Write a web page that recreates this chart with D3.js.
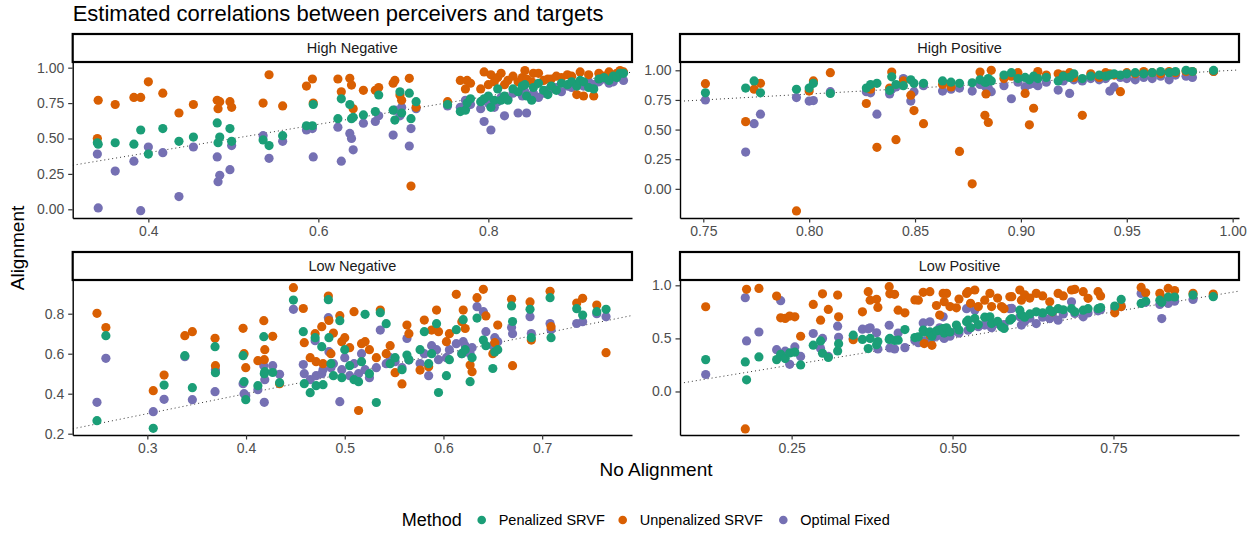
<!DOCTYPE html>
<html>
<head>
<meta charset="utf-8">
<script src="https://cdn.jsdelivr.net/npm/d3@7"></script>
<style>
  body { margin: 0; background: #fff; }
  text { font-family: "Liberation Sans", Arial, sans-serif; }
</style>
</head>
<body>
<svg id="chart" width="1260" height="535"></svg>
<script>
// ---- data: one x per subject, one y per method ----
var methods = ["Penalized SRVF", "Unpenalized SRVF", "Optimal Fixed"];
var facets = ["High Negative", "High Positive", "Low Negative", "Low Positive"];

// High Negative
var hnX = [0.340,0.341,0.361,0.383,0.391,0.400,0.417,0.436,0.453,0.481,
  0.482,0.484,0.496,0.498,0.535,0.542,0.558,0.586,0.593,0.594,
  0.623,0.627,0.637,0.639,0.641,0.653,0.667,0.671,0.688,0.690,
  0.696,0.698,0.707,0.709,0.715,0.752,0.767,0.773,0.775,0.779,
  0.791,0.795,0.800,0.803,0.807,0.811,0.815,0.819,0.823,0.829,
  0.835,0.840,0.843,0.845,0.851,0.853,0.859,0.865,0.870,0.874,
  0.880,0.886,0.893,0.898,0.904,0.908,0.912,0.918,0.924,0.930,
  0.936,0.942,0.947,0.951,0.955,0.959];
var hnPen = [0.47,0.46,0.47,0.46,0.56,0.39,0.57,0.48,0.51,0.61,
  0.47,0.51,0.57,0.48,0.49,0.45,0.52,0.59,0.59,0.74,
  0.64,0.78,0.74,0.64,0.65,0.666,0.69,0.807,0.70,0.63,
  0.83,0.68,0.82,0.64,0.76,0.74,0.69,0.70,0.75,0.78,
  0.76,0.78,0.80,0.72,0.77,0.85,0.77,0.80,0.77,0.85,
  0.83,0.87,0.88,0.80,0.77,0.86,0.89,0.84,0.81,0.87,
  0.84,0.89,0.88,0.90,0.87,0.91,0.90,0.86,0.85,0.92,
  0.93,0.91,0.94,0.93,0.96,0.96];
var hnUnp = [0.50,0.77,0.74,0.79,0.79,0.90,0.82,0.68,0.74,0.77,
  0.71,0.76,0.76,0.72,0.75,0.95,0.73,0.87,0.92,0.75,
  0.92,0.83,0.925,0.877,0.71,0.84,0.84,0.86,0.89,0.91,
  0.807,0.77,0.925,0.164,0.72,0.76,0.91,0.85,0.91,0.89,
  0.85,0.97,0.88,0.95,0.90,0.93,0.96,0.88,0.91,0.94,
  0.90,0.93,0.98,0.92,0.90,0.96,0.96,0.91,0.92,0.92,
  0.94,0.93,0.95,0.94,0.81,0.97,0.80,0.95,0.80,0.96,
  0.94,0.97,0.94,0.96,0.98,0.97];
var hnOpt = [0.39,0.01,0.27,0.34,-0.01,0.44,0.40,0.09,0.44,0.37,
  0.195,0.24,0.28,0.45,0.52,0.36,0.48,0.56,0.57,0.37,
  0.58,0.34,0.536,0.50,0.42,0.608,0.62,0.66,0.524,0.70,
  0.66,0.72,0.447,0.57,0.71,0.73,0.72,0.77,0.73,0.74,
  0.71,0.62,0.75,0.56,0.72,0.76,0.79,0.66,0.78,0.82,
  0.68,0.80,0.83,0.68,0.80,0.82,0.79,0.82,0.84,0.85,
  0.86,0.83,0.87,0.86,0.88,0.89,0.87,0.90,0.88,0.90,
  0.92,0.89,0.90,0.93,0.94,0.91];

// High Positive
var hpX = [0.751,0.770,0.774,0.777,0.794,0.800,0.802,0.810,0.827,0.829,
  0.832,0.838,0.839,0.841,0.8445,0.848,0.8495,0.854,0.863,0.867,
  0.871,0.877,0.8807,0.8835,0.883,0.8846,0.886,0.892,0.8955,0.8986,
  0.902,0.904,0.906,0.908,0.912,0.9176,0.920,0.923,0.925,0.929,
  0.933,0.937,0.940,0.942,0.944,0.947,0.950,0.954,0.958,0.962,
  0.966,0.970,0.973,0.978,0.981,0.991];
var hpPen = [0.81,0.85,0.91,0.81,0.84,0.85,0.89,0.805,0.85,0.88,
  0.89,0.83,0.945,0.88,0.87,0.92,0.89,0.89,0.91,0.90,
  0.89,0.895,0.92,0.90,0.90,0.93,0.91,0.96,0.98,0.93,
  0.94,0.92,0.95,0.93,0.94,0.91,0.95,0.94,0.97,0.93,
  0.95,0.96,0.95,0.96,0.97,0.96,0.97,0.98,0.97,0.98,
  0.99,0.98,0.99,1.00,0.99,0.999];
var hpUnp = [0.887,0.567,0.84,0.89,-0.186,0.825,0.91,0.98,0.72,0.84,
  0.35,0.85,0.985,0.415,0.91,0.79,0.66,0.55,0.88,0.86,
  0.316,0.042,0.985,0.80,0.62,0.56,1.0,0.93,0.95,0.98,
  0.805,0.54,0.68,0.99,0.96,0.97,0.96,0.98,0.94,0.62,
  0.97,0.94,0.98,0.97,0.96,0.82,0.98,0.97,0.99,0.98,
  0.97,0.99,0.98,0.99,0.99,0.99];
var hpOpt = [0.75,0.31,0.55,0.63,0.77,0.74,0.745,0.82,0.82,0.81,
  0.63,0.80,0.84,0.86,0.93,0.74,0.82,0.87,0.825,0.84,
  0.85,0.825,0.88,0.86,0.87,0.85,0.82,0.87,0.76,0.90,
  0.86,0.88,0.89,0.87,0.90,0.833,0.91,0.805,0.92,0.91,
  0.93,0.92,0.93,0.825,0.86,0.94,0.93,0.92,0.94,0.93,
  0.95,0.92,0.96,0.95,0.94,0.99];

// Low Negative
var lnX = [0.249,0.258,0.306,0.317,0.338,0.3456,0.3686,0.369,0.397,0.398,
  0.3997,0.412,0.418,0.419,0.4185,0.427,0.434,0.448,0.458,0.459,
  0.465,0.470,0.471,0.4767,0.478,0.4834,0.484,0.486,0.4885,0.495,
  0.497,0.500,0.505,0.5094,0.514,0.517,0.5206,0.525,0.532,0.536,
  0.542,0.546,0.551,0.558,0.563,0.565,0.5763,0.5806,0.585,0.588,
  0.593,0.595,0.603,0.606,0.613,0.6186,0.620,0.622,0.627,0.629,
  0.634,0.6404,0.643,0.650,0.652,0.655,0.669,0.670,0.6877,0.689,
  0.708,0.709,0.735,0.741,0.7553,0.7647];
var lnPen = [0.265,0.690,0.227,0.443,0.590,0.43,0.635,0.505,0.59,0.46,
  0.37,0.44,0.685,0.51,0.50,0.506,0.455,0.868,0.71,0.45,
  0.405,0.68,0.44,0.635,0.445,0.87,0.68,0.55,0.49,0.765,
  0.48,0.62,0.54,0.47,0.46,0.56,0.797,0.50,0.356,0.805,
  0.75,0.55,0.58,0.52,0.593,0.57,0.62,0.71,0.55,0.60,
  0.75,0.406,0.49,0.57,0.72,0.60,0.77,0.62,0.46,0.58,
  0.778,0.668,0.64,0.526,0.609,0.62,0.839,0.761,0.822,0.68,
  0.88,0.68,0.825,0.793,0.81,0.822];
var lnUnp = [0.802,0.731,0.415,0.493,0.690,0.71,0.677,0.54,0.727,0.60,
  0.53,0.565,0.765,0.62,0.57,0.687,0.45,0.93,0.826,0.655,
  0.58,0.70,0.56,0.735,0.55,0.888,0.766,0.60,0.703,0.79,
  0.66,0.68,0.63,0.81,0.316,0.65,0.66,0.62,0.58,0.818,
  0.60,0.64,0.505,0.449,0.743,0.70,0.518,0.768,0.535,0.718,
  0.818,0.71,0.66,0.70,0.897,0.76,0.818,0.726,0.543,0.51,
  0.88,0.922,0.789,0.60,0.655,0.743,0.872,0.54,0.859,0.668,
  0.912,0.735,0.853,0.877,0.843,0.605];
var lnOpt = [0.357,0.577,0.310,0.372,0.585,0.37,0.41,0.52,0.45,0.40,
  0.39,0.42,0.54,0.47,0.357,0.54,0.497,0.822,0.546,0.50,
  0.47,0.665,0.49,0.50,0.52,0.78,0.61,0.53,0.55,0.36,
  0.52,0.58,0.49,0.55,0.50,0.60,0.52,0.48,0.53,0.718,
  0.55,0.58,0.56,0.53,0.676,0.568,0.551,0.60,0.49,0.64,
  0.62,0.57,0.58,0.62,0.65,0.60,0.66,0.64,0.60,0.63,
  0.835,0.81,0.71,0.64,0.68,0.66,0.731,0.70,0.785,0.701,
  0.751,0.72,0.751,0.76,0.80,0.785];

// Low Positive
var lpX = [0.1165,0.178,0.180,0.1992,0.2267,0.233,0.240,0.247,0.255,0.264,
  0.2836,0.295,0.298,0.307,0.3215,0.323,0.3457,0.360,0.369,0.372,
  0.382,0.384,0.4016,0.4026,0.410,0.4155,0.426,0.4415,0.4468,0.4544,
  0.456,0.4648,0.465,0.468,0.475,0.480,0.4854,0.487,0.4907,0.496,
  0.506,0.510,0.5218,0.524,0.528,0.5346,0.540,0.550,0.558,0.5606,
  0.570,0.576,0.580,0.589,0.592,0.6045,0.607,0.612,0.620,0.630,
  0.640,0.651,0.655,0.664,0.672,0.6848,0.690,0.703,0.7105,0.726,
  0.730,0.752,0.762,0.793,0.800,0.822,0.825,0.835,0.845,0.8736,
  0.905];
var lpPen = [0.30,0.278,0.11,0.325,0.30,0.35,0.31,0.363,0.37,0.25,
  0.436,0.476,0.36,0.32,0.382,0.45,0.53,0.49,0.404,0.50,
  0.441,0.47,0.49,0.50,0.48,0.483,0.583,0.508,0.515,0.577,
  0.56,0.561,0.55,0.52,0.57,0.58,0.593,0.55,0.60,0.56,
  0.625,0.58,0.656,0.672,0.60,0.688,0.63,0.70,0.703,0.64,
  0.66,0.609,0.593,0.672,0.687,0.766,0.72,0.70,0.73,0.75,
  0.74,0.766,0.75,0.78,0.77,0.78,0.75,0.766,0.78,0.78,
  0.79,0.804,0.867,0.829,0.85,0.86,0.84,0.89,0.89,0.908,
  0.893];
var lpUnp = [0.798,-0.353,0.962,0.971,0.899,0.694,0.688,0.71,0.703,0.52,
  0.82,0.672,0.92,0.773,0.908,0.703,0.488,0.75,0.94,0.86,
  0.868,0.792,0.987,0.92,0.915,0.766,0.741,0.862,0.86,0.934,
  0.451,0.94,0.53,0.435,0.81,0.72,0.924,0.845,0.924,0.80,
  0.788,0.87,0.924,0.94,0.83,0.956,0.80,0.86,0.924,0.80,
  0.88,0.80,0.78,0.892,0.893,0.956,0.86,0.91,0.88,0.924,
  0.90,0.845,0.75,0.924,0.90,0.956,0.962,0.94,0.877,0.94,
  0.90,0.741,0.80,0.98,0.93,0.924,0.88,0.971,0.95,0.924,
  0.918];
var lpOpt = [0.16,0.883,0.476,0.56,0.394,0.855,0.38,0.256,0.42,0.33,
  0.546,0.405,0.50,0.33,0.615,0.51,0.50,0.587,0.59,0.60,
  0.552,0.40,0.624,0.41,0.40,0.55,0.413,0.48,0.46,0.646,
  0.476,0.656,0.466,0.50,0.52,0.60,0.703,0.50,0.55,0.52,
  0.57,0.55,0.78,0.577,0.60,0.766,0.61,0.625,0.656,0.60,
  0.64,0.62,0.63,0.78,0.782,0.703,0.625,0.66,0.69,0.64,
  0.70,0.687,0.72,0.672,0.73,0.845,0.735,0.703,0.74,0.76,
  0.77,0.78,0.80,0.924,0.84,0.82,0.687,0.829,0.85,0.867,
  0.90];

// tick values
var hnXTicks = [0.4, 0.6, 0.8];
var hnYTicks = [0, 0.25, 0.5, 0.75, 1];
var hpXTicks = [0.75, 0.8, 0.85, 0.9, 0.95, 1];
var hpYTicks = [0, 0.25, 0.5, 0.75, 1];
var lnXTicks = [0.3, 0.4, 0.5, 0.6, 0.7];
var lnYTicks = [0.2, 0.4, 0.6, 0.8];
var lpXTicks = [0.25, 0.5, 0.75];
var lpYTicks = [0, 0.5, 1];

// ---- drawing ----
var colors = ["#1B9E77", "#D95F02", "#7570B3"];
var drawOrder = [2, 1, 0];  // purple under orange under green

var svg = d3.select("#chart");

// panel boxes [left, right, top, bottom], strip top, scale limits
var panels = [
  {name: facets[0], x: hnX, ys: [hnPen, hnUnp, hnOpt], xdom: [0.311, 0.969], ydom: [-0.0614, 1.040],
   xt: hnXTicks, yt: hnYTicks, xf: ".1f", yf: ".2f", box: [72.7, 632, 62, 218], strip: 34},
  {name: facets[1], x: hpX, ys: [hpPen, hpUnp, hpOpt], xdom: [0.739, 1.003], ydom: [-0.246, 1.070],
   xt: hpXTicks, yt: hpYTicks, xf: ".2f", yf: ".2f", box: [680, 1239, 62, 218], strip: 34},
  {name: facets[2], x: lnX, ys: [lnPen, lnUnp, lnOpt], xdom: [0.2244, 0.791], ydom: [0.1935, 0.9685],
   xt: lnXTicks, yt: lnYTicks, xf: ".1f", yf: ".1f", box: [72.7, 632, 280, 435], strip: 252},
  {name: facets[3], x: lpX, ys: [lpPen, lpUnp, lpOpt], xdom: [0.0766, 0.945], ydom: [-0.41, 1.050],
   xt: lpXTicks, yt: lpYTicks, xf: ".2f", yf: ".1f", box: [680, 1239, 280, 435], strip: 252}
];

panels.forEach(function(p, i) {
  var w = p.box[1] - p.box[0], h = p.box[3] - p.box[2];
  var g = svg.append("g").attr("transform", "translate(" + p.box[0] + "," + p.box[2] + ")");

  var x = d3.scaleLinear().domain(p.xdom).range([0, w]);
  var y = d3.scaleLinear().domain(p.ydom).range([h, 0]);

  g.append("clipPath").attr("id", "clip" + i)
    .append("rect").attr("width", w).attr("height", h);

  var inner = g.append("g").attr("clip-path", "url(#clip" + i + ")");

  // identity line
  inner.append("line")
    .attr("x1", x(p.xdom[0])).attr("y1", y(p.xdom[0]))
    .attr("x2", x(p.xdom[1])).attr("y2", y(p.xdom[1]))
    .attr("stroke", "#000").attr("stroke-width", 0.8)
    .attr("stroke-dasharray", "1,3");

  drawOrder.forEach(function(m) {
    inner.selectAll(".pt" + m)
      .data(p.x.map(function(v, k) { return [v, p.ys[m][k]]; }))
      .enter().append("circle")
      .attr("cx", function(d) { return x(d[0]); })
      .attr("cy", function(d) { return y(d[1]); })
      .attr("r", 4.6)
      .attr("fill", colors[m]);
  });

  // axes
  var ax = g.append("g").attr("transform", "translate(0," + h + ")")
    .call(d3.axisBottom(x).tickValues(p.xt).tickFormat(d3.format(p.xf))
      .tickSize(4.5).tickSizeOuter(0).tickPadding(4));
  var ay = g.append("g")
    .call(d3.axisLeft(y).tickValues(p.yt).tickFormat(d3.format(p.yf))
      .tickSize(4.5).tickSizeOuter(0).tickPadding(4));
  [ax, ay].forEach(function(a) {
    a.select(".domain").attr("stroke", "#000").attr("stroke-width", 1.4);
    a.selectAll(".tick line").attr("stroke", "#333").attr("stroke-width", 1.2);
    a.selectAll(".tick text").attr("fill", "#4d4d4d").style("font-size", "14px")
      .style("font-family", '"Liberation Sans", Arial, sans-serif');
  });

  // strip
  var sh = p.box[2] - p.strip;
  g.append("rect").attr("x", 0).attr("y", -sh).attr("width", w).attr("height", sh)
    .attr("fill", "#fff").attr("stroke", "#000").attr("stroke-width", 2.2);
  g.append("text").attr("x", w / 2).attr("y", -sh / 2).attr("dy", "0.35em")
    .attr("text-anchor", "middle").attr("fill", "#1a1a1a").style("font-size", "14.5px")
    .text(p.name);
});

// titles
svg.append("text").attr("x", 72.7).attr("y", 20.5)
  .style("font-size", "22px").attr("fill", "#000")
  .text("Estimated correlations between perceivers and targets");
svg.append("text").attr("x", 656).attr("y", 476).attr("text-anchor", "middle")
  .style("font-size", "19px").text("No Alignment");
svg.append("text").attr("transform", "translate(24,248) rotate(-90)").attr("text-anchor", "middle")
  .style("font-size", "19px").text("Alignment");

// legend
var legend = svg.append("g");
legend.append("text").attr("x", 401.7).attr("y", 520).attr("dy", "0.35em")
  .style("font-size", "18px").text("Method");
var keyX = [481.7, 622.7, 783.3];
methods.forEach(function(m, i) {
  legend.append("circle").attr("cx", keyX[i]).attr("cy", 520).attr("r", 4.3).attr("fill", colors[i]);
  legend.append("text").attr("x", keyX[i] + 17).attr("y", 520).attr("dy", "0.35em")
    .style("font-size", "14.5px").attr("fill", "#000").text(m);
});
</script>
</body>
</html>
